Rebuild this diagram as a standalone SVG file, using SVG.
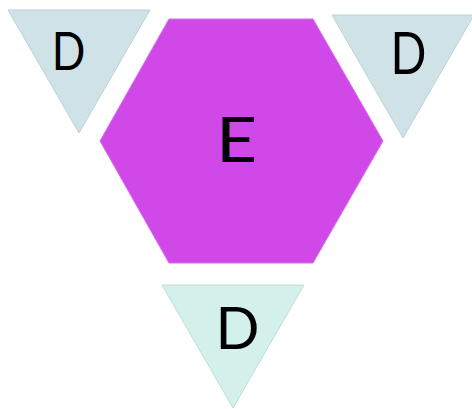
<svg xmlns="http://www.w3.org/2000/svg" width="472" height="409" viewBox="0 0 472 409">
<style>
.tri{fill:#cfe2e8;stroke:#bdd2d8;stroke-width:1}
.tri2{fill:#d3f0ea;stroke:#c0ddd6;stroke-width:1}
.hex{fill:#d048e8;stroke:#d86cec;stroke-width:1}
.lbl{font-family:Lato,"Open Sans",sans-serif;fill:#000;text-anchor:middle}
</style>
<rect width="472" height="409" fill="#fff"/>
<g id="connectors"></g>
<g id="node-e">
<polygon class="hex" points="169,19 313,19 383,141 313,263 169,263 100,141"/>
<text class="lbl" transform="translate(236.5,162) scale(1.15,1)" font-size="62">E</text>
</g>
<g id="node-d1">
<polygon class="tri" points="8,10 150,10 79,133"/>
<text class="lbl" transform="translate(68.5,70) scale(0.85,1)" font-size="52">D</text>
</g>
<g id="node-d2">
<polygon class="tri" points="332,15 474,15 403,138"/>
<text class="lbl" transform="translate(408.5,74) scale(0.8,1)" font-size="59">D</text>
</g>
<g id="node-d3">
<polygon class="tri2" points="162,285 304,285 233,408"/>
<text class="lbl" transform="translate(237.5,349) scale(0.98,1)" font-size="59">D</text>
</g>
</svg>
